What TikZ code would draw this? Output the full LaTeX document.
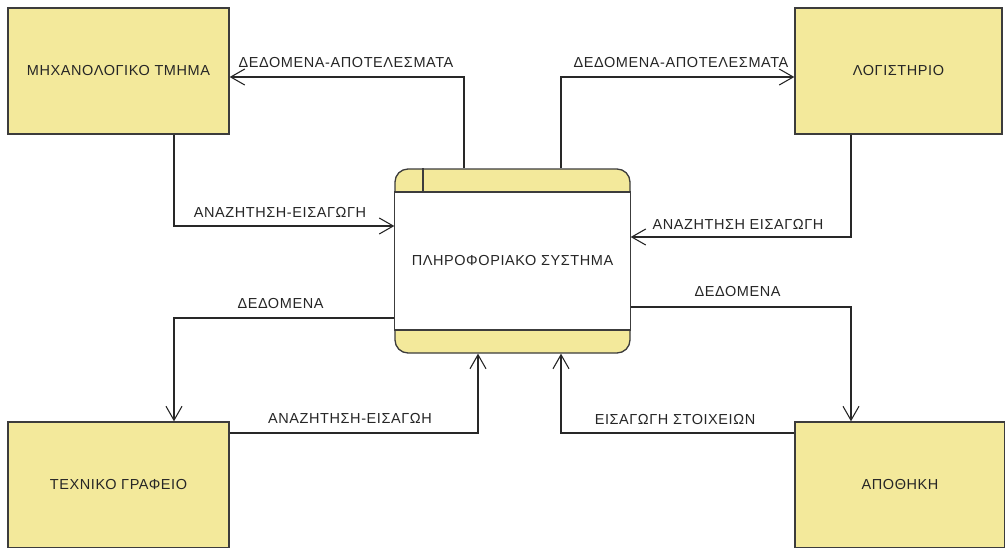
\documentclass[tikz,border=0pt]{standalone}
\usepackage{fontspec}
\setmainfont[LetterSpace=4]{Liberation Sans}
\usetikzlibrary{arrows.meta}
\definecolor{boxfill}{RGB}{243,233,155}
\definecolor{boxline}{RGB}{60,60,60}
\definecolor{flowline}{RGB}{40,40,40}
\tikzset{
  entity/.style={draw=boxline, line width=1.3pt, fill=boxfill, minimum width=221pt, minimum height=126pt, inner sep=0pt, font=\fontsize{14.5}{17}\selectfont, text=black!85},
  proc/.style={draw=boxline, line width=1.3pt, fill=boxfill, minimum width=235pt, minimum height=184pt, rounded corners=13pt, inner sep=0pt},
  flow/.style={draw=flowline, line width=1.1pt, -{Straight Barb[length=14pt,width=16pt,line width=1.1pt]}},
  lbl/.style={inner sep=0pt, font=\fontsize{14.5}{17}\selectfont, text=black!85}
}
\begin{document}
\begin{tikzpicture}[x=1pt,y=-1pt]
\useasboundingbox (0,0) rectangle (1005,547);
\fill[white] (0,0) rectangle (1005,547);
\clip (0,0) rectangle (1005,547);
% entities
\node[entity] (mhx) at (118.5,71) {ΜΗΧΑΝΟΛΟΓΙΚΟ ΤΜΗΜΑ};
\node[entity, minimum width=207pt] (log) at (898.5,71) {ΛΟΓΙΣΤΗΡΙΟ};
\node[entity] (tex) at (118.5,485) {ΤΕΧΝΙΚΟ ΓΡΑΦΕΙΟ};
\node[entity, minimum width=210pt] (apo) at (900,485) {ΑΠΟΘΗΚΗ};
% process
\node[proc] (proc) at (512.5,261) {};
\coordinate (bandT) at (0,192);
\coordinate (bandB) at (0,330);
\coordinate (div) at (423,0);
\filldraw[fill=white, draw=boxline, line width=1.3pt] (proc.west |- bandT) rectangle (proc.east |- bandB);
\draw[boxline, line width=1.3pt] (proc.north -| div) -- (bandT -| div);
\node[lbl] (ptxt) at (proc.center) {ΠΛΗΡΟΦΟΡΙΑΚΟ ΣΥΣΤΗΜΑ};
% bend points
\coordinate (b1) at (464,77);
\coordinate (b2) at (174,226);
\coordinate (b3) at (561,77);
\coordinate (b4) at (851,237);
\coordinate (b5) at (174,318);
\coordinate (b6) at (478,433);
\coordinate (b7) at (851,307);
\coordinate (b8) at (561,433);
% flows
\draw[flow] (proc.north -| b1) -- (b1) -- (mhx.east |- b1);
\draw[flow] (mhx.south -| b2) -- (b2) -- (proc.west |- b2);
\draw[flow] (proc.north -| b3) -- (b3) -- (log.west |- b3);
\draw[flow] (log.south -| b4) -- (b4) -- (proc.east |- b4);
\draw[flow] (proc.west |- b5) -- (b5) -- (tex.north -| b5);
\draw[flow] (tex.east |- b6) -- (b6) -- (proc.south -| b6);
\draw[flow] (proc.east |- b7) -- (b7) -- (apo.north -| b7);
\draw[flow] (apo.west |- b8) -- (b8) -- (proc.south -| b8);
% labels
\node[lbl] (l1) at (346,62.5) {ΔΕΔΟΜΕΝΑ-ΑΠΟΤΕΛΕΣΜΑΤΑ};
\node[lbl] (l2) at (280,212) {ΑΝΑΖΗΤΗΣΗ-ΕΙΣΑΓΩΓΗ};
\node[lbl] (l3) at (681,62.5) {ΔΕΔΟΜΕΝΑ-ΑΠΟΤΕΛΕΣΜΑΤΑ};
\node[lbl] (l4) at (738,224) {ΑΝΑΖΗΤΗΣΗ ΕΙΣΑΓΩΓΗ};
\node[lbl] (l5) at (280.5,304) {ΔΕΔΟΜΕΝΑ};
\node[lbl] (l6) at (350,418.5) {ΑΝΑΖΗΤΗΣΗ-ΕΙΣΑΓΩΗ};
\node[lbl] (l7) at (737.5,292) {ΔΕΔΟΜΕΝΑ};
\node[lbl] (l8) at (675,419.5) {ΕΙΣΑΓΩΓΗ ΣΤΟΙΧΕΙΩΝ};
\end{tikzpicture}
\end{document}
